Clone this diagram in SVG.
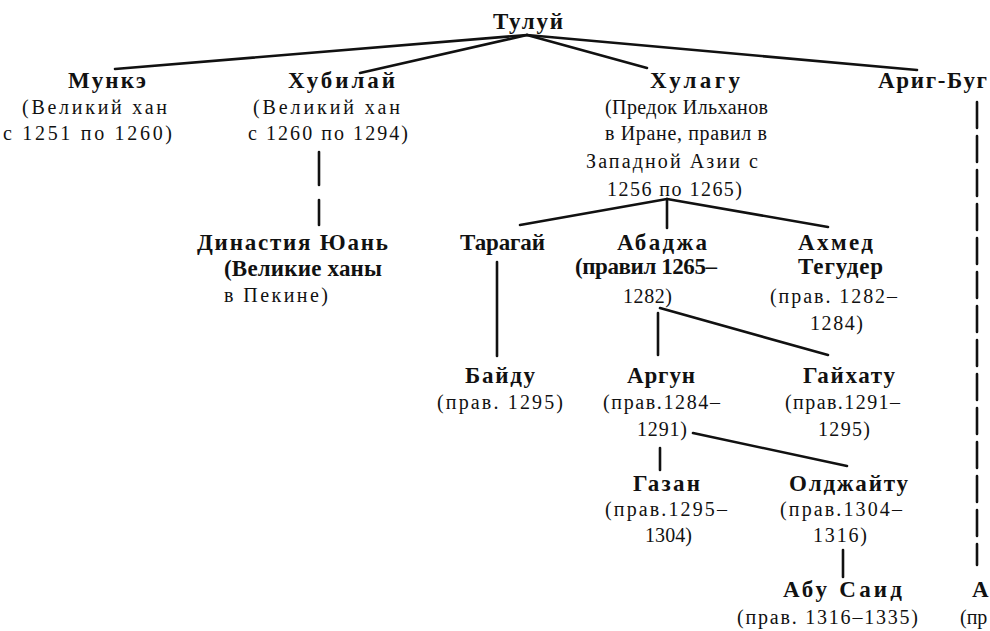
<svg xmlns="http://www.w3.org/2000/svg" width="990" height="631" viewBox="0 0 990 631">
<style>
text{font-family:"Liberation Serif","DejaVu Serif",serif;fill:#111}
.b{font-size:23px;font-weight:bold}
.n{font-size:20px}
.c line{stroke:#111;stroke-width:2.6;stroke-linecap:round}
.d{stroke-dasharray:26 8}
</style>
<rect width="990" height="631" fill="#fff"/>
<g class="c" id="connectors">
<line x1="527" y1="35" x2="115" y2="69"/>
<line x1="527" y1="35" x2="360" y2="73"/>
<line x1="527" y1="35" x2="647" y2="68"/>
<line x1="527" y1="35" x2="917" y2="70"/>
<line x1="319" y1="152" x2="319" y2="185"/>
<line x1="319" y1="200" x2="319" y2="225"/>
<line x1="667" y1="199" x2="520" y2="225"/>
<line x1="667" y1="199" x2="667" y2="228"/>
<line x1="667" y1="199" x2="828" y2="227"/>
<line x1="497" y1="262" x2="497" y2="356"/>
<line x1="660" y1="308" x2="828" y2="355"/>
<line x1="658" y1="313" x2="658" y2="355"/>
<line x1="693" y1="433" x2="847" y2="466"/>
<line x1="660" y1="448" x2="660" y2="470"/>
<line x1="843" y1="550" x2="843" y2="577"/>
<line class="d" x1="977" y1="102" x2="977" y2="565"/>
</g>
<g id="tului"><text class="b" x="493" y="29" textLength="70" lengthAdjust="spacing">Тулуй</text></g>
<g id="munke">
<text class="b" x="68" y="88" textLength="78" lengthAdjust="spacing">Мункэ</text>
<text class="n" x="22" y="114" textLength="145" lengthAdjust="spacing">(Великий хан</text>
<text class="n" x="3" y="140" textLength="169" lengthAdjust="spacing">с 1251 по 1260)</text>
</g>
<g id="khubilai">
<text class="b" x="288" y="88" textLength="107" lengthAdjust="spacing">Хубилай</text>
<text class="n" x="253" y="114" textLength="147" lengthAdjust="spacing">(Великий хан</text>
<text class="n" x="248" y="140" textLength="160" lengthAdjust="spacing">с 1260 по 1294)</text>
</g>
<g id="khulagu">
<text class="b" x="650" y="88" textLength="90" lengthAdjust="spacing">Хулагу</text>
<text class="n" x="605" y="114" textLength="163" lengthAdjust="spacing">(Предок Ильханов</text>
<text class="n" x="605" y="140" textLength="162" lengthAdjust="spacing">в Иране, правил в</text>
<text class="n" x="586" y="168" textLength="172" lengthAdjust="spacing">Западной Азии с</text>
<text class="n" x="607" y="196" textLength="135" lengthAdjust="spacing">1256 по 1265)</text>
</g>
<g id="arig-bug"><text class="b" x="878" y="88" textLength="109" lengthAdjust="spacing">Ариг-Буг</text></g>
<g id="yuan">
<text class="b" x="197" y="250" textLength="191" lengthAdjust="spacing">Династия Юань</text>
<text class="b" x="224" y="276" textLength="158" lengthAdjust="spacing">(Великие ханы</text>
<text class="n" x="224" y="302" textLength="104" lengthAdjust="spacing">в Пекине)</text>
</g>
<g id="taragai"><text class="b" x="460" y="250" textLength="85" lengthAdjust="spacing">Тарагай</text></g>
<g id="abaja">
<text class="b" x="617" y="250" textLength="90" lengthAdjust="spacing">Абаджа</text>
<text class="b" x="575" y="274" textLength="142" lengthAdjust="spacing">(правил 1265–</text>
<text class="n" x="623" y="303" textLength="49" lengthAdjust="spacing">1282)</text>
</g>
<g id="ahmed">
<text class="b" x="798" y="250" textLength="75" lengthAdjust="spacing">Ахмед</text>
<text class="b" x="798" y="274" textLength="85" lengthAdjust="spacing">Тегудер</text>
<text class="n" x="770" y="303" textLength="127" lengthAdjust="spacing">(прав. 1282–</text>
<text class="n" x="810" y="330" textLength="53" lengthAdjust="spacing">1284)</text>
</g>
<g id="baidu">
<text class="b" x="465" y="383" textLength="70" lengthAdjust="spacing">Байду</text>
<text class="n" x="437" y="409" textLength="126" lengthAdjust="spacing">(прав. 1295)</text>
</g>
<g id="argun">
<text class="b" x="627" y="383" textLength="68" lengthAdjust="spacing">Аргун</text>
<text class="n" x="603" y="409" textLength="117" lengthAdjust="spacing">(прав.1284–</text>
<text class="n" x="637" y="436" textLength="50" lengthAdjust="spacing">1291)</text>
</g>
<g id="gaikhatu">
<text class="b" x="803" y="383" textLength="92" lengthAdjust="spacing">Гайхату</text>
<text class="n" x="785" y="409" textLength="115" lengthAdjust="spacing">(прав.1291–</text>
<text class="n" x="818" y="436" textLength="52" lengthAdjust="spacing">1295)</text>
</g>
<g id="gazan">
<text class="b" x="633" y="491" textLength="67" lengthAdjust="spacing">Газан</text>
<text class="n" x="605" y="516" textLength="122" lengthAdjust="spacing">(прав.1295–</text>
<text class="n" x="645" y="542" textLength="47" lengthAdjust="spacing">1304)</text>
</g>
<g id="oljeitu">
<text class="b" x="789" y="491" textLength="119" lengthAdjust="spacing">Олджайту</text>
<text class="n" x="780" y="516" textLength="122" lengthAdjust="spacing">(прав.1304–</text>
<text class="n" x="813" y="542" textLength="54" lengthAdjust="spacing">1316)</text>
</g>
<g id="abu-said">
<text class="b" x="783" y="597" textLength="119" lengthAdjust="spacing">Абу Саид</text>
<text class="n" x="737" y="624" textLength="181" lengthAdjust="spacing">(прав. 1316–1335)</text>
</g>
<g id="cut-node">
<text class="b" x="972" y="597">А</text>
<text class="n" x="960" y="624">(пр</text>
</g>
</svg>
